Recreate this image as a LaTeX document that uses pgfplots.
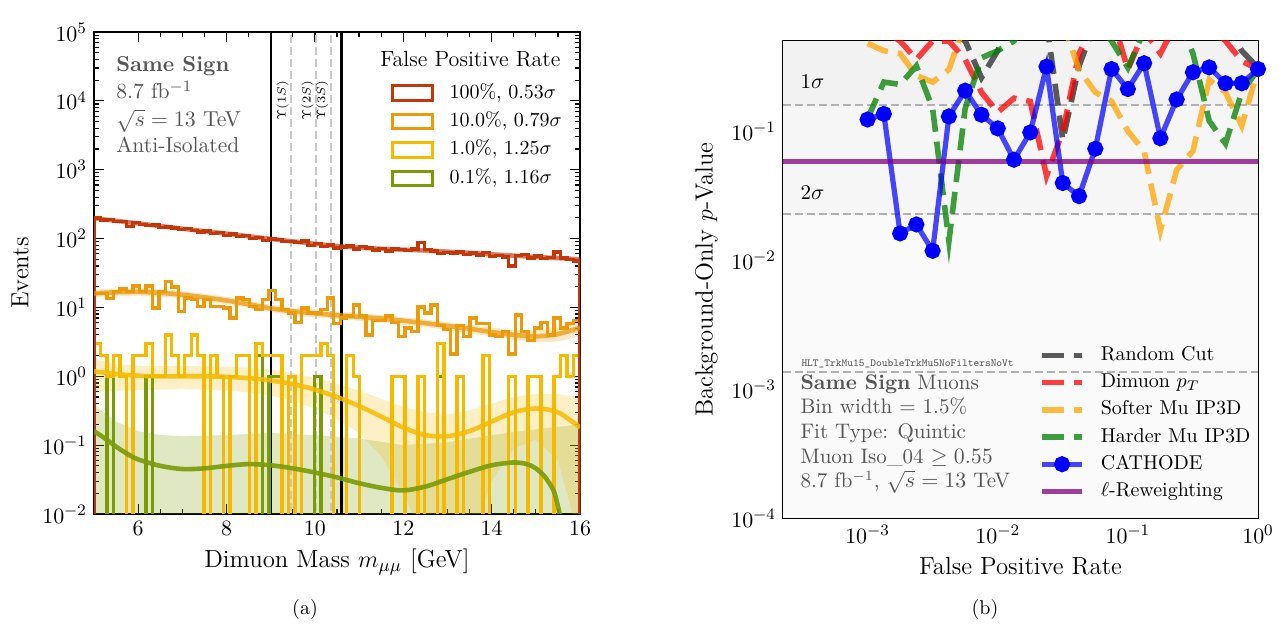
\documentclass[border=0pt]{standalone}
\usepackage{pgfplots}
\pgfplotsset{compat=1.18}
\usepackage{pgfplotstable}

\definecolor{cR}{HTML}{C2380A}
\definecolor{cO}{HTML}{EA9A0A}
\definecolor{cY}{HTML}{F5BA00}
\definecolor{cG}{HTML}{7A9A06}
\definecolor{mplorange}{HTML}{FFA500}
\definecolor{mplgreen}{HTML}{008000}
\definecolor{mplpurple}{HTML}{800080}
\definecolor{txtgray}{HTML}{555555}

% histogram bins (left edge) for the four false-positive-rate cuts; 0.001 = empty bin
\pgfplotstableread{
edge red orange yellow green
5.0000 0.001 0.001 0.001 0.001
5.0000 200 16 3 0.001
5.1467 186 16 2 0.001
5.2933 188 13.5 1 1
5.4400 176 17 2 0.001
5.5867 178 18.5 1 0.001
5.7333 150 17 0.001 0.001
5.8800 171 20.6 2 0.001
6.0267 160 17 2 0.001
6.1733 155 20.6 3 1
6.3200 158 9.8 1 0.001
6.4667 146 17 1 0.001
6.6133 148 24 4 0.001
6.7600 143 19.7 2 0.001
6.9067 135 8.7 1 0.001
7.0533 139 13.7 2 0.001
7.2000 131 13 4 0.001
7.3467 125 10.3 2 0.001
7.4933 128 13 0.001 0.001
7.6400 119 10.3 2 0.001
7.7867 123 10.3 1 0.001
7.9333 111 9.8 0.001 0.001
8.0800 116 7 1 0.001
8.2267 108 13.7 2 0.001
8.3733 111 13 2 0.001
8.5200 101 10.3 0.001 0.001
8.6667 104 9.3 3 2
8.8133 94 13 2 0.001
8.9600 99 17.5 2 1
9.1067 97 13 2 1
9.2533 90 9.3 0.001 0.001
9.4000 91 8.3 1 0.001
9.5467 87 6.1 0.001 0.001
9.6933 92 9.8 2 0.001
9.8400 79 8.3 2 0.001
9.9867 84 8.3 2 1
10.1333 76 9.3 3 0.001
10.2800 81 13.7 2 0.001
10.4267 73 5.9 0.001 0.001
10.5733 75 7 0.001 0.001
10.7200 78 7.5 2 0.001
10.8667 71 10.9 1 0.001
11.0133 76 7.5 0.001 0.001
11.1600 73 4 0.001 0.001
11.3067 68 6.5 0.001 0.001
11.4533 72 6.5 0.001 0.001
11.6000 66 7.5 0.001 0.001
11.7467 71 6 1 0.001
11.8933 70 3.8 1 0.001
12.0400 67 5 0.001 0.001
12.1867 71 4.5 0.001 0.001
12.3333 88 10.1 1 0.001
12.4800 70 8.3 0.001 0.001
12.6267 66 10.9 0.001 0.001
12.7733 61 5.5 3 1
12.9200 63 4.8 0.001 0.001
13.0667 62 2.1 0.001 0.001
13.2133 64 5.5 1 0.001
13.3600 59 3.8 0.001 0.001
13.5067 62 7 0.001 0.001
13.6533 58 5.9 0.001 0.001
13.8000 63 5.9 2 0.001
13.9467 55 4 0.001 0.001
14.0933 57 3.8 0.001 0.001
14.2400 54 4.5 0.001 0.001
14.3867 40 2.1 1 1
14.5333 57 7.8 0.001 0.001
14.6800 59 4.5 0.001 0.001
14.8267 52 3.3 1 0.001
14.9733 56 5 1 0.001
15.1200 51 6.1 0.001 0.001
15.2667 53 4 0.001 0.001
15.4133 64 7 1 0.001
15.5600 52 5 2 0.001
15.7067 50 5.9 1 0.001
15.8533 47 6.5 2 0.001
16.0000 47 6.5 2 0.001
16.0000 0.001 0.001 0.001 0.001
}\histdata

% background-only p-values vs false positive rate (values above 0.5 run off the top)
\pgfplotstableread{
fpr random dimuon softer harder cathode
0.0010000 0.80 0.70 0.48 0.125 0.123
0.0013335 0.80 0.60 0.42 0.24 0.136
0.0017783 0.70 0.50 0.40 0.23 0.0161
0.0023714 0.80 0.36 0.27 0.32 0.0189
0.0031623 0.70 0.50 0.24 0.15 0.0118
0.0042170 0.60 0.50 0.30 0.014 0.130
0.0056234 0.50 0.36 0.70 0.15 0.206
0.0074989 0.26 0.20 0.80 0.37 0.134
0.010000 0.42 0.14 0.90 0.42 0.105
0.013335 0.80 0.18 0.90 0.50 0.060
0.017783 0.90 0.17 0.80 0.90 0.0977
0.023714 0.70 0.045 0.90 0.90 0.316
0.031623 0.085 0.10 0.70 0.80 0.0396
0.042170 0.32 0.40 0.30 0.80 0.0313
0.056234 0.70 0.70 0.20 0.70 0.073
0.074989 0.80 0.80 0.17 0.50 0.303
0.10000 0.90 0.30 0.10 0.31 0.212
0.13335 0.80 0.60 0.07 0.60 0.336
0.17783 0.90 0.40 0.017 0.90 0.088
0.23714 0.80 0.70 0.05 0.80 0.176
0.31623 0.70 0.80 0.07 0.40 0.286
0.42170 0.80 0.70 0.25 0.12 0.312
0.56234 0.70 0.50 0.20 0.08 0.235
0.74989 0.42 0.35 0.11 0.20 0.235
1.0000 0.31 0.30 0.30 0.30 0.303
}\pvaldata

\pgfplotsset{
  mplstyle/.style={
    scale only axis,
    tick align=inside, xtick pos=both, ytick pos=both,
    major tick length=5pt, minor tick length=2.5pt,
    every tick/.style={black, line width=0.6pt},
    axis line style={line width=1pt},
    tick label style={font=\fontsize{11}{13}\selectfont},
    label style={font=\fontsize{12.4}{15}\selectfont},
  },
}

\begin{document}
\begin{tikzpicture}
\useasboundingbox (0,0) rectangle (641.5pt,315pt);

% ---------------- (a) ----------------
\begin{axis}[mplstyle,
  at={(47pt,58pt)}, anchor=south west,
  width=243pt, height=241pt,
  xmin=5, xmax=16, ymin=1e-2, ymax=1e5, ymode=log,
  xtick={6,8,...,16}, minor x tick num=3,
  xlabel={Dimuon Mass $m_{\mu\mu}$ [GeV]}, ylabel={Events},
  legend image code/.code={\draw[#1] (0pt,-3.6pt) rectangle (20pt,3.6pt);},
  legend style={at={(rel axis cs:0.597,0.903)}, anchor=north west,
    draw=none, fill=none, font=\fontsize{10}{12}\selectfont,
    nodes={inner sep=0pt, text height=7.5pt, text depth=2.5pt},
    row sep=4.2pt, column sep=8pt},
  legend cell align=left,
]
% fit uncertainty bands
\addplot[fill=cG, fill opacity=0.24, draw=none, forget plot] coordinates {(5,0.38) (5.5,0.22) (6,0.16) (6.5,0.14) (7,0.135) (8,0.14) (9,0.15) (10,0.14) (11,0.125) (12,0.1) (13,0.11) (14,0.14) (15,0.17) (16,0.2) (16,0.001) (5,0.001)} -- cycle;
\addplot[fill=cY, fill opacity=0.22, draw=none, forget plot] coordinates {(5,1.75) (5.5,1.5) (6,1.42) (6.5,1.4) (7,1.4) (7.5,1.4) (8,1.38) (8.5,1.33) (9,1.25) (9.5,1.12) (10,0.95) (10.5,0.78) (11,0.62) (11.5,0.47) (12,0.36) (12.5,0.3) (13,0.28) (13.5,0.32) (14,0.4) (14.5,0.5) (15,0.55) (15.5,0.55) (16,0.5)
 (16,0.004) (15.5,0.06) (15,0.12) (14.5,0.09) (14,0.03) (13.5,0.004) (13,0.003) (12.5,0.004) (12,0.02) (11.5,0.07) (11,0.15) (10.5,0.24) (10,0.34) (9.5,0.44) (9,0.52) (8.5,0.58) (8,0.62) (7.5,0.64) (7,0.65) (6.5,0.64) (6,0.63) (5.5,0.62) (5,0.6)} -- cycle;
\addplot[fill=cO, fill opacity=0.22, draw=none, forget plot] coordinates {(5,18.1) (5.5,18.8) (6,19.0) (6.5,18.4) (7,17.3) (7.5,15.8) (8,14.2) (8.5,12.5) (9,11.0) (9.5,9.9) (10,9.3) (10.5,8.7) (11,8.2) (11.5,7.8) (12,7.2) (12.5,6.7) (13,6.1) (13.5,5.6) (14,5.1) (14.5,4.7) (15,4.6) (15.5,5.1) (16,6.6)
 (16,3.8) (15.5,3.2) (15,3.1) (14.5,3.4) (14,3.8) (13.5,4.2) (13,4.7) (12.5,5.2) (12,5.6) (11.5,6.1) (11,6.4) (10.5,6.8) (10,7.2) (9.5,7.7) (9,8.5) (8.5,9.8) (8,11.1) (7.5,12.3) (7,13.5) (6.5,14.3) (6,14.8) (5.5,14.6) (5,14.1)} -- cycle;
\addplot[fill=cR, fill opacity=0.22, draw=none, forget plot] coordinates {(5,208) (5.5,190) (6,174) (6.5,160) (7,146) (7.5,134) (8,124) (8.5,113) (9,104) (9.5,96) (10,88) (10.5,82) (11,78) (11.5,75) (12,72.5) (12.5,70.4) (13,67.7) (13.5,65) (14,62) (14.5,59.3) (15,56.7) (15.5,54.6) (16,52.5)
 (16,47.5) (15.5,49.4) (15,51.3) (14.5,53.7) (14,56) (13.5,58.9) (13,61.3) (12.5,63.6) (12,65.5) (11.5,67.5) (11,70.3) (10.5,74) (10,80) (9.5,86.5) (9,94) (8.5,103) (8,112) (7.5,122) (7,132) (6.5,144) (6,158) (5.5,172) (5,188)} -- cycle;

% signal region and Upsilon lines
\addplot[black!22, line width=1pt, dash pattern=on 4pt off 2pt, forget plot] coordinates {(9.46,1e-3) (9.46,1e6)};
\addplot[black!22, line width=1pt, dash pattern=on 4pt off 2pt, forget plot] coordinates {(10.023,1e-3) (10.023,1e6)};
\addplot[black!22, line width=1pt, dash pattern=on 4pt off 2pt, forget plot] coordinates {(10.355,1e-3) (10.355,1e6)};
\addplot[black, line width=1.1pt, forget plot] coordinates {(9.0,1e-3) (9.0,1e6)};
\addplot[black, line width=1.1pt, forget plot] coordinates {(10.6,1e-3) (10.6,1e6)};

% histograms
\addplot[cG, line width=1.7pt, const plot mark left, forget plot] table[x=edge, y=green] {\histdata};
\addplot[cY, line width=1.7pt, const plot mark left, forget plot] table[x=edge, y=yellow] {\histdata};
\addplot[cO, line width=1.7pt, const plot mark left, forget plot] table[x=edge, y=orange] {\histdata};
\addplot[cR, line width=1.7pt, const plot mark left, forget plot] table[x=edge, y=red] {\histdata};

% fits
\addplot[cR, line width=2.3pt, draw opacity=0.6, smooth, forget plot] coordinates {(5,198) (5.5,181) (6,166) (6.5,152) (7,139) (7.5,128) (8,118) (8.5,108) (9,99) (9.5,91) (10,84) (10.5,78) (11,74) (11.5,71) (12,69) (12.5,67) (13,64.5) (13.5,62) (14,59) (14.5,56.5) (15,54) (15.5,52) (16,50)};
\addplot[cO, line width=2.3pt, draw opacity=0.75, smooth, forget plot] coordinates {(5,16.0) (5.5,16.6) (6,16.8) (6.5,16.3) (7,15.3) (7.5,14.0) (8,12.6) (8.5,11.1) (9,9.7) (9.5,8.8) (10,8.2) (10.5,7.7) (11,7.3) (11.5,6.9) (12,6.4) (12.5,5.9) (13,5.4) (13.5,4.9) (14,4.4) (14.5,4.0) (15,3.8) (15.5,4.1) (16,5.1)};
\addplot[cY, line width=2.3pt, draw opacity=0.85, smooth, forget plot] coordinates {(5,1.18) (5.5,1.08) (6,1.02) (6.5,1.0) (7,1.0) (7.5,1.0) (8,0.98) (8.5,0.94) (9,0.87) (9.5,0.77) (10,0.64) (10.5,0.5) (11,0.37) (11.5,0.26) (12,0.18) (12.5,0.14) (13,0.135) (13.5,0.16) (14,0.22) (14.5,0.3) (15,0.34) (15.5,0.3) (16,0.18)};
\addplot[cG, line width=2.3pt, draw opacity=0.9, smooth, forget plot] coordinates {(5,0.16) (5.25,0.125) (5.5,0.095) (5.75,0.075) (6,0.062) (6.5,0.05) (7,0.045) (7.5,0.046) (8,0.05) (8.5,0.053) (9,0.051) (9.5,0.046) (10,0.04) (10.5,0.034) (11,0.028) (11.5,0.024) (12,0.022) (12.5,0.025) (13,0.032) (13.5,0.041) (14,0.051) (14.5,0.056) (14.8,0.053) (15,0.046) (15.2,0.035) (15.4,0.022) (15.5,0.013) (15.55,0.009) (15.6,0.005)};

\addlegendimage{draw=cR, line width=1.5pt}\addlegendentry{100\%, 0.53$\sigma$}
\addlegendimage{draw=cO, line width=1.5pt}\addlegendentry{10.0\%, 0.79$\sigma$}
\addlegendimage{draw=cY, line width=1.5pt}\addlegendentry{1.0\%, 1.25$\sigma$}
\addlegendimage{draw=cG, line width=1.5pt}\addlegendentry{0.1\%, 1.16$\sigma$}

\node[anchor=base west, inner sep=0pt, font=\fontsize{11}{13}\selectfont] at (rel axis cs:0.5885,0.929) {False Positive Rate};
\node[anchor=base west, inner sep=0pt, text=txtgray, font=\fontsize{10.8}{13}\selectfont\bfseries] at (rel axis cs:0.045,0.919) {Same Sign};
\node[anchor=base west, inner sep=0pt, text=txtgray, font=\fontsize{10.8}{13}\selectfont] at (rel axis cs:0.045,0.861) {8.7 fb$^{-1}$};
\node[anchor=base west, inner sep=0pt, text=txtgray, font=\fontsize{10.8}{13}\selectfont] at (rel axis cs:0.045,0.803) {$\sqrt{s} = 13$ TeV};
\node[anchor=base west, inner sep=0pt, text=txtgray, font=\fontsize{10.8}{13}\selectfont] at (rel axis cs:0.045,0.751) {Anti-Isolated};

\node[rotate=90, anchor=south, inner sep=1pt, font=\fontsize{6.5}{7}\selectfont] at (axis cs:9.46,1.0e4) {$\Upsilon(1S)$};
\node[rotate=90, anchor=south, inner sep=1pt, font=\fontsize{6.5}{7}\selectfont] at (axis cs:10.023,1.0e4) {$\Upsilon(2S)$};
\node[rotate=90, anchor=south, inner sep=1pt, font=\fontsize{6.5}{7}\selectfont] at (axis cs:10.355,1.0e4) {$\Upsilon(3S)$};

\node[anchor=base east, inner sep=0pt, font=\fontsize{9.9}{11}\selectfont\bfseries] at (rel axis cs:1,1.029) {2016 CMS Open Data DoubleMuon};
\end{axis}

% ---------------- (b) ----------------
\begin{axis}[mplstyle,
  at={(391.5pt,56pt)}, anchor=south west,
  width=237.5pt, height=238.5pt,
  xmode=log, ymode=log,
  xmin=2.24e-4, xmax=1, ymin=1e-4, ymax=0.5,
  xlabel={False Positive Rate}, ylabel={Background-Only $p$-Value},
  legend image code/.code={\draw[mark repeat=2,mark phase=2,#1] plot coordinates {(0pt,0pt) (10pt,0pt) (20pt,0pt)};},
  legend style={at={(rel axis cs:0.526,0.371)}, anchor=north west,
    draw=none, fill=none, font=\fontsize{10}{12}\selectfont,
    nodes={inner sep=0pt, text height=7.5pt, text depth=2.5pt},
    row sep=3.6pt, column sep=8pt},
  legend cell align=left,
]
% significance bands
\addplot[fill=black!5, draw=none, forget plot] coordinates {(2.24e-4,0.1587) (1,0.1587) (1,0.5) (2.24e-4,0.5)} -- cycle;
\addplot[fill=black!3.5, draw=none, forget plot] coordinates {(2.24e-4,0.02275) (1,0.02275) (1,0.1587) (2.24e-4,0.1587)} -- cycle;
\addplot[fill=black!2, draw=none, forget plot] coordinates {(2.24e-4,1e-4) (1,1e-4) (1,0.02275) (2.24e-4,0.02275)} -- cycle;
\addplot[black!30, line width=0.8pt, dash pattern=on 4pt off 2pt, forget plot] coordinates {(2.24e-4,0.1587) (1,0.1587)};
\addplot[black!30, line width=0.8pt, dash pattern=on 4pt off 2pt, forget plot] coordinates {(2.24e-4,0.02275) (1,0.02275)};
\addplot[black!30, line width=0.8pt, dash pattern=on 4pt off 2pt, forget plot] coordinates {(2.24e-4,0.00135) (1,0.00135)};

\addplot[black!80, line width=2.8pt, draw opacity=0.8, dash pattern=on 11pt off 5pt] table[x=fpr, y=random] {\pvaldata};
\addlegendentry{Random Cut}
\addplot[red, line width=2.8pt, draw opacity=0.75, dash pattern=on 11pt off 5pt] table[x=fpr, y=dimuon] {\pvaldata};
\addlegendentry{Dimuon $p_T$}
\addplot[mplorange, line width=2.8pt, draw opacity=0.75, dash pattern=on 11pt off 5pt] table[x=fpr, y=softer] {\pvaldata};
\addlegendentry{Softer Mu IP3D}
\addplot[mplgreen, line width=2.8pt, draw opacity=0.75, dash pattern=on 11pt off 5pt] table[x=fpr, y=harder] {\pvaldata};
\addlegendentry{Harder Mu IP3D}
\addplot[blue, line width=2.6pt, draw opacity=0.72, mark=*, mark size=2.7pt,
  mark options={solid, fill=blue, draw=blue, draw opacity=1, fill opacity=1}] table[x=fpr, y=cathode] {\pvaldata};
\addlegendentry{CATHODE}
\addplot[mplpurple, line width=2.8pt, draw opacity=0.75] coordinates {(2.24e-4,0.058) (1,0.058)};
\addlegendentry{$\ell$-Reweighting}

\node[anchor=west, inner sep=0pt, font=\fontsize{10.5}{12}\selectfont] at (rel axis cs:0.036,0.914) {1$\sigma$};
\node[anchor=west, inner sep=0pt, font=\fontsize{10.5}{12}\selectfont] at (rel axis cs:0.036,0.683) {2$\sigma$};
\node[anchor=south west, inner sep=0.5pt, text=txtgray, font=\fontsize{5.4}{6}\selectfont\ttfamily] at (rel axis cs:0.036,0.312) {HLT\_TrkMu15\_DoubleTrkMu5NoFiltersNoVt};
\node[anchor=base west, inner sep=0pt, text=txtgray, font=\fontsize{10.5}{12}\selectfont] at (rel axis cs:0.036,0.270) {\textbf{Same Sign} Muons};
\node[anchor=base west, inner sep=0pt, text=txtgray, font=\fontsize{10.5}{12}\selectfont] at (rel axis cs:0.036,0.219) {Bin width = 1.5\%};
\node[anchor=base west, inner sep=0pt, text=txtgray, font=\fontsize{10.5}{12}\selectfont] at (rel axis cs:0.036,0.167) {Fit Type: Quintic};
\node[anchor=base west, inner sep=0pt, text=txtgray, font=\fontsize{10.5}{12}\selectfont] at (rel axis cs:0.036,0.115) {Muon Iso\_04 $\geq 0.55$};
\node[anchor=base west, inner sep=0pt, text=txtgray, font=\fontsize{10.5}{12}\selectfont] at (rel axis cs:0.036,0.063) {8.7 fb$^{-1}$, $\sqrt{s} = 13$ TeV};

\node[anchor=base east, inner sep=0pt, font=\fontsize{9.9}{11}\selectfont\bfseries] at (rel axis cs:1,1.028) {2016 CMS Open Data DoubleMuon};
\end{axis}

\node[font=\fontsize{10}{12}\selectfont] at (152.5pt,10pt) {(a)};
\node[font=\fontsize{10}{12}\selectfont] at (492.5pt,10pt) {(b)};
\end{tikzpicture}
\end{document}
